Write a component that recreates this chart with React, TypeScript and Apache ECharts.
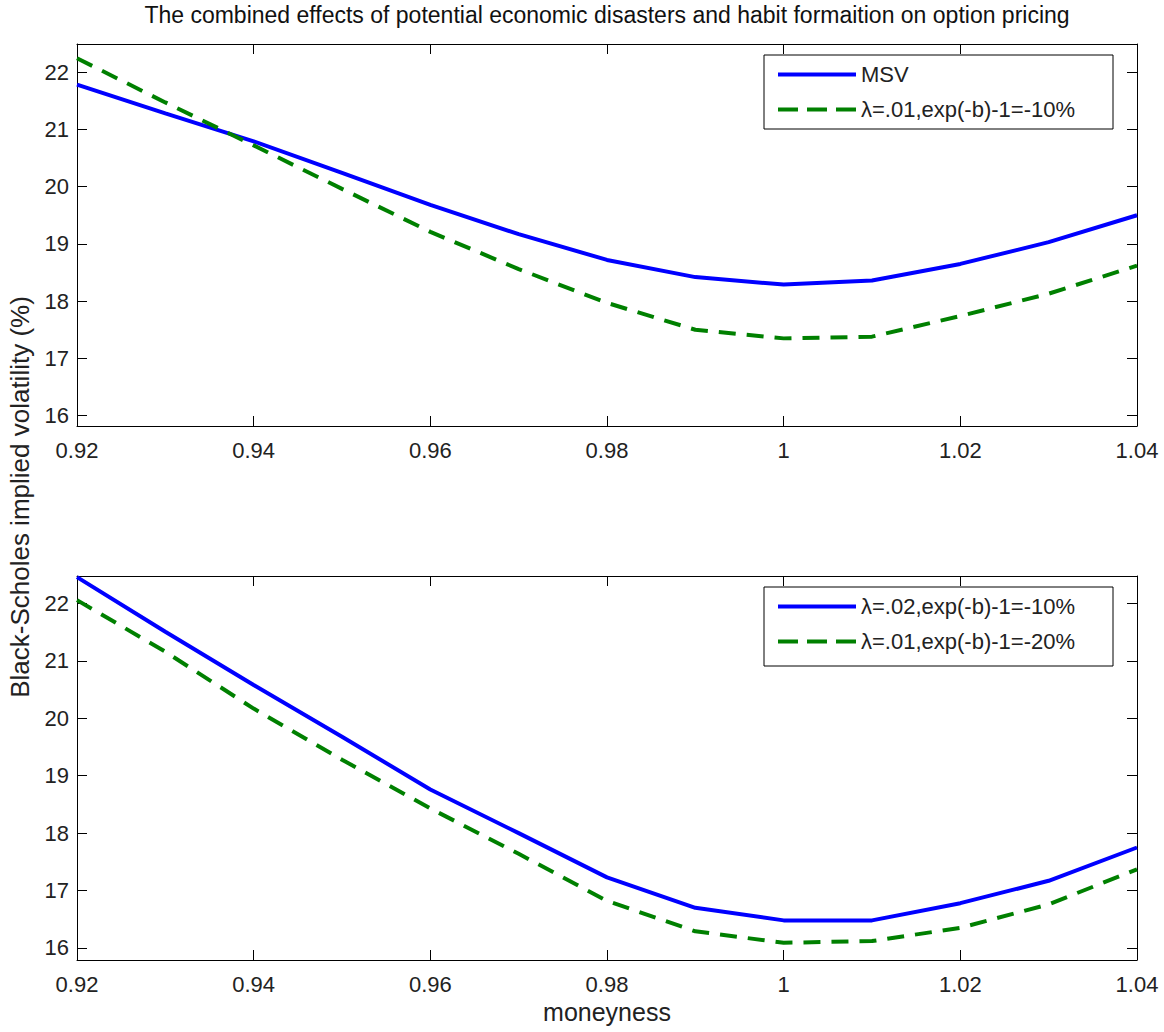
import React, { useEffect, useRef } from "react";
import * as echarts from "echarts";

const moneyness = [0.92, 0.93, 0.94, 0.95, 0.96, 0.97, 0.98, 0.99, 1.0, 1.01, 1.02, 1.03, 1.04];
const msvTop = [21.78, 21.28, 20.79, 20.24, 19.68, 19.17, 18.72, 18.42, 18.29, 18.36, 18.65, 19.03, 19.5];
const lam01b10Top = [22.24, 21.47, 20.72, 19.96, 19.21, 18.56, 17.97, 17.5, 17.35, 17.38, 17.74, 18.13, 18.62];
const lam02b10Bot = [22.46, 21.51, 20.58, 19.68, 18.76, 18.0, 17.23, 16.7, 16.48, 16.48, 16.78, 17.17, 17.75];
const lam01b20Bot = [22.06, 21.16, 20.17, 19.28, 18.43, 17.64, 16.82, 16.29, 16.09, 16.12, 16.35, 16.76, 17.37];
const xTicks = [0.92, 0.94, 0.96, 0.98, 1.0, 1.02, 1.04];
const yTicks = [16, 17, 18, 19, 20, 21, 22];
const topNames = ["MSV", "λ=.01,exp(-b)-1=-10%"];
const botNames = ["λ=.02,exp(-b)-1=-10%", "λ=.01,exp(-b)-1=-20%"];
const titleText = "The combined effects of potential economic disasters and habit formaition on option pricing";

const FONT = "'Liberation Sans', Arial, sans-serif";
const FS = 22;
const SOLID_ICON = "path://M0,0H78V4H0Z";
const DASH_ICON = "path://M0,0H20V4H0Z M29,0H49V4H29Z M58,0H78V4H58Z";

function pairs(ys: number[]) {
  return moneyness.map((x, i) => [x, ys[i]]);
}

function xAx(gridIndex: number, pos: "bottom" | "top", labels: boolean) {
  return {
    type: "value",
    gridIndex,
    position: pos,
    min: 0.92,
    max: 1.04,
    axisLine: { show: true, onZero: false, lineStyle: { color: "#000", width: 1 } },
    axisTick: { show: true, inside: true, length: 10, customValues: xTicks, lineStyle: { color: "#000" } },
    axisLabel: {
      show: labels,
      customValues: xTicks,
      margin: 13,
      color: "#222",
      fontFamily: FONT,
      fontSize: FS,
      formatter: (v: number) => String(+v.toFixed(2)),
    },
    splitLine: { show: false },
  };
}

function yAx(gridIndex: number, pos: "left" | "right", labels: boolean, min: number, max: number) {
  return {
    type: "value",
    gridIndex,
    position: pos,
    min,
    max,
    axisLine: { show: true, onZero: false, lineStyle: { color: "#000", width: 1 } },
    axisTick: { show: true, inside: true, length: 10, customValues: yTicks, lineStyle: { color: "#000" } },
    axisLabel: {
      show: labels,
      customValues: yTicks,
      margin: 8,
      color: "#222",
      fontFamily: FONT,
      fontSize: FS,
    },
    splitLine: { show: false },
  };
}

export default function App() {
  const ref = useRef<HTMLDivElement>(null);
  useEffect(() => {
    if (!ref.current) return;
    const chart = echarts.init(ref.current, undefined, { renderer: "svg" });
    const blue = { type: "solid", width: 4, color: "#0000ff" };
    const green = { type: [17, 11], width: 4, color: "#008000" };
    const legendCommon = {
      orient: "vertical",
      left: 764,
      itemWidth: 78,
      itemHeight: 4,
      itemGap: 12,
      padding: [8, 10, 8, 14],
      z: 20,
      textStyle: { fontFamily: FONT, fontSize: FS, color: "#222", lineHeight: 23 },
      borderWidth: 0,
    };
    chart.setOption({
      animation: false,
      backgroundColor: "#fff",
      grid: [
        { left: 77, top: 44, width: 1060, height: 382, outerBoundsMode: "none", containLabel: false },
        { left: 77, top: 576, width: 1060, height: 384, outerBoundsMode: "none", containLabel: false },
      ],
      xAxis: [xAx(0, "bottom", true), xAx(0, "top", false), xAx(1, "bottom", true), xAx(1, "top", false)],
      yAxis: [
        yAx(0, "left", true, 15.82, 22.49),
        yAx(0, "right", false, 15.82, 22.49),
        yAx(1, "left", true, 15.79, 22.48),
        yAx(1, "right", false, 15.79, 22.48),
      ],
      legend: [
        {
          ...legendCommon,
          top: 55,
          data: [
            { name: topNames[0], icon: SOLID_ICON },
            { name: topNames[1], icon: DASH_ICON },
          ],
        },
        {
          ...legendCommon,
          top: 587,
          data: [
            { name: botNames[0], icon: SOLID_ICON },
            { name: botNames[1], icon: DASH_ICON },
          ],
        },
      ],
      graphic: [
        {
          type: "rect",
          shape: { x: 764, y: 55, width: 349, height: 74 },
          style: { fill: "#fff", stroke: "#000", lineWidth: 1 },
          z: 5,
        },
        {
          type: "rect",
          shape: { x: 764, y: 587, width: 349, height: 79 },
          style: { fill: "#fff", stroke: "#000", lineWidth: 1 },
          z: 5,
        },
        {
          type: "text",
          x: 607,
          y: 15,
          style: { text: titleText, fontFamily: FONT, fontSize: 23, fill: "#111", align: "center", verticalAlign: "middle" },
        },
        {
          type: "text",
          x: 607,
          y: 1012,
          style: { text: "moneyness", fontFamily: FONT, fontSize: 25, fill: "#222", align: "center", verticalAlign: "middle" },
        },
        {
          type: "text",
          x: 20,
          y: 497,
          rotation: Math.PI / 2,
          style: {
            text: "Black-Scholes implied volatility (%)",
            fontFamily: FONT,
            fontSize: 26,
            fill: "#222",
            align: "center",
            verticalAlign: "middle",
          },
        },
      ],
      series: [
        { name: topNames[0], type: "line", xAxisIndex: 0, yAxisIndex: 0, data: pairs(msvTop), symbol: "none", lineStyle: blue, itemStyle: { color: "#0000ff" }, z: 3 },
        { name: topNames[1], type: "line", xAxisIndex: 0, yAxisIndex: 0, data: pairs(lam01b10Top), symbol: "none", lineStyle: green, itemStyle: { color: "#008000" }, z: 3 },
        { name: botNames[0], type: "line", xAxisIndex: 2, yAxisIndex: 2, data: pairs(lam02b10Bot), symbol: "none", lineStyle: blue, itemStyle: { color: "#0000ff" }, z: 3 },
        { name: botNames[1], type: "line", xAxisIndex: 2, yAxisIndex: 2, data: pairs(lam01b20Bot), symbol: "none", lineStyle: green, itemStyle: { color: "#008000" }, z: 3 },
      ],
    });
    return () => chart.dispose();
  }, []);
  return <div ref={ref} style={{ width: 1164, height: 1032, position: "absolute", left: 0, top: 0 }} />;
}
